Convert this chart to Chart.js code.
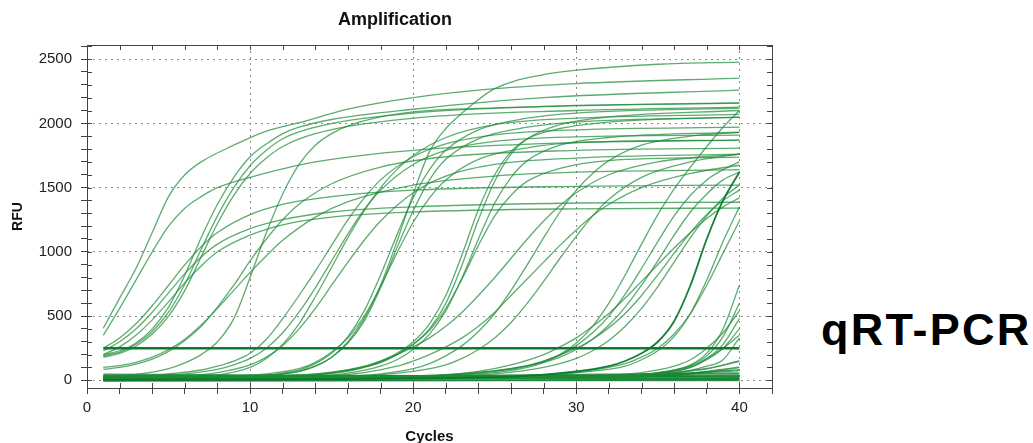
<!DOCTYPE html>
<html>
<head>
<meta charset="utf-8">
<script src="https://cdn.jsdelivr.net/npm/chart.js@4/dist/chart.umd.min.js"></script>
<style>
  html, body { margin: 0; padding: 0; background: #fff; }
  #wrap { position: absolute; left: 0; top: 0; width: 790px; height: 443px; }
  #tag {
    position: absolute; left: 821px; top: 307px;
    font: bold 45px "Liberation Sans", Arial, sans-serif; line-height: 45px;
    letter-spacing: 2.2px; color: #000; white-space: nowrap;
  }
</style>
</head>
<body>
<div id="wrap"><canvas id="ampChart"></canvas></div>
<div id="tag">qRT-PCR</div>
<script>
// Assi: etichette principali
var cycleTicks = [0, 10, 20, 30, 40];
var rfuTicks = [0, 500, 1000, 1500, 2000, 2500];

// Curve: coppie [ciclo, RFU]
var earlyCurves = [
  [[1,405],[2,640],[3,870],[4,1150],[5,1430],[6,1600],[7,1700],[9,1830],[11,1940],[13,2005],[16,2110],[20,2200],[25,2270],[30,2310],[40,2352]],
  [[1,350],[2,560],[3,780],[4,1000],[5,1200],[6,1340],[7,1430],[8,1500],[10,1580],[14,1700],[20,1790],[30,1850],[40,1870]]
];

var midCurves = [
  [[1,250],[2,330],[3,440],[4,580],[5,740],[6,900],[7,1040],[8,1150],[10,1290],[12,1370],[15,1430],[20,1480],[30,1510],[40,1519]],
  [[1,230],[2,300],[3,400],[4,530],[5,680],[6,830],[7,960],[8,1060],[10,1180],[12,1250],[15,1310],[20,1350],[30,1380],[40,1386]],
  [[1,200],[2,260],[3,350],[4,470],[5,610],[6,760],[7,890],[8,1000],[10,1130],[12,1210],[15,1270],[20,1310],[30,1335],[40,1340]],
  [[1,200],[2,230],[3,290],[4,400],[5,570],[6,820],[7,1110],[8,1370],[9,1580],[10,1740],[11,1840],[12,1920],[13,1970],[15,2030],[20,2110],[28,2200],[40,2259]],
  [[1,190],[2,220],[3,280],[4,380],[5,530],[6,750],[7,1020],[8,1280],[9,1500],[10,1670],[11,1790],[12,1880],[14,1970],[20,2080],[28,2130],[40,2157]],
  [[1,180],[2,210],[3,265],[4,360],[5,500],[6,700],[7,960],[8,1220],[9,1440],[10,1610],[11,1730],[12,1820],[14,1920],[20,2040],[30,2100],[40,2126]]
];

var lowStartCurves = [
  [[1,100],[2,115],[3,140],[4,180],[5,240],[6,320],[7,430],[8,560],[9,700],[10,840],[11,970],[12,1090],[14,1270],[16,1390],[20,1520],[25,1590],[30,1620],[40,1640]],
  [[1,85],[2,100],[3,125],[4,165],[5,225],[6,310],[7,420],[8,570],[9,740],[10,930],[11,1100],[12,1250],[13,1370],[15,1530],[18,1660],[22,1740],[30,1790],[40,1807]]
];

var cycle9Curves = [
  [[1,30],[3,45],[5,90],[6,135],[7,200],[8,300],[9,480],[10,800],[11,1150],[12,1450],[13,1680],[14,1830],[15,1920],[16,1980],[18,2050],[20,2090],[25,2120],[30,2140],[40,2160]]
];

var cycle13Curves = [
  [[1,20],[3,30],[5,50],[7,80],[8,110],[9,150],[10,210],[11,320],[12,480],[13,660],[14,850],[15,1050],[16,1250],[17,1420],[18,1560],[20,1740],[22,1840],[25,1910],[30,1950],[40,1970]],
  [[1,15],[4,30],[6,50],[8,85],[9,120],[10,170],[11,250],[12,370],[13,530],[14,720],[15,930],[16,1140],[17,1330],[18,1480],[20,1680],[22,1790],[25,1860],[30,1895],[40,1908]],
  [[1,10],[5,25],[8,60],[10,120],[11,180],[12,270],[13,400],[14,560],[15,740],[16,920],[17,1090],[18,1240],[20,1460],[22,1590],[25,1680],[30,1730],[40,1760]],
  [[1,5],[5,15],[8,40],[10,100],[11,170],[12,280],[13,440],[14,650],[15,880],[16,1110],[17,1320],[18,1500],[19,1640],[20,1750],[22,1890],[25,1990],[30,2040],[40,2070]]
];

var cycle17Curves = [
  [[1,10],[8,20],[11,40],[13,80],[14,130],[15,210],[16,340],[17,540],[18,820],[19,1130],[20,1420],[21,1640],[22,1790],[24,1950],[27,2040],[30,2080],[40,2118]],
  [[1,5],[8,15],[11,35],[13,70],[14,110],[15,180],[16,290],[17,460],[18,720],[19,1030],[20,1320],[21,1560],[22,1720],[24,1880],[27,1970],[30,2010],[40,2048]],
  [[1,20],[8,30],[11,50],[13,90],[14,140],[15,220],[16,330],[17,500],[18,730],[19,990],[20,1230],[21,1420],[22,1560],[24,1720],[27,1810],[30,1850],[40,1870]],
  [[1,10],[8,20],[11,40],[13,70],[14,110],[15,180],[16,300],[17,480],[18,740],[19,1080],[20,1450],[21,1780],[22,1960],[23,2080],[25,2270],[28,2380],[30,2414],[35,2460],[40,2477]]
];

var cycle22Curves = [
  [[1,10],[10,20],[14,40],[16,70],[17,100],[18,140],[19,200],[20,280],[21,400],[22,600],[23,900],[24,1250],[25,1550],[26,1760],[27,1880],[29,1990],[32,2050],[40,2100]],
  [[1,15],[10,25],[14,45],[16,75],[17,105],[18,150],[19,210],[20,300],[21,440],[22,660],[23,980],[24,1330],[25,1600],[26,1780],[27,1880],[29,1960],[32,2010],[40,2048]],
  [[1,5],[10,15],[14,30],[16,55],[18,110],[19,160],[20,240],[21,360],[22,540],[23,800],[24,1100],[25,1380],[26,1580],[27,1710],[29,1830],[32,1890],[40,1931]],
  [[1,20],[10,30],[14,50],[16,80],[18,140],[19,200],[20,280],[21,390],[22,560],[23,790],[24,1050],[25,1280],[26,1440],[27,1550],[29,1650],[32,1710],[40,1737]]
];

var diagonalCurves = [
  [[1,10],[12,30],[15,60],[17,110],[18,150],[19,200],[20,260],[21,330],[22,420],[23,530],[24,660],[25,800],[26,950],[27,1100],[28,1240],[29,1360],[30,1460],[32,1600],[35,1700],[40,1760]],
  [[1,10],[14,30],[17,60],[19,110],[20,150],[21,200],[22,260],[23,330],[24,420],[25,530],[26,660],[27,790],[28,920],[29,1050],[30,1170],[31,1280],[32,1370],[34,1500],[37,1610],[40,1674]],
  [[1,5],[14,20],[18,50],[20,90],[21,130],[22,190],[23,270],[24,380],[25,520],[26,700],[27,900],[28,1110],[29,1310],[30,1480],[31,1610],[32,1710],[34,1830],[37,1900],[40,1930]],
  [[1,10],[16,30],[20,70],[22,120],[23,170],[24,240],[25,330],[26,450],[27,600],[28,770],[29,950],[30,1120],[31,1280],[32,1410],[34,1580],[37,1700],[40,1760]]
];

var cycle32Curves = [
  [[1,10],[20,30],[25,60],[27,100],[28,140],[29,200],[30,290],[31,420],[32,600],[33,820],[34,1060],[35,1290],[36,1490],[37,1660],[38,1820],[39,1970],[40,2100]],
  [[1,10],[20,30],[25,70],[27,110],[28,150],[29,200],[30,270],[31,370],[32,500],[33,670],[34,870],[35,1080],[36,1280],[37,1440],[38,1560],[39,1640],[40,1700]],
  [[1,15],[20,35],[25,75],[28,140],[29,180],[30,240],[31,320],[32,430],[33,570],[34,740],[35,930],[36,1130],[37,1310],[38,1450],[39,1560],[40,1620]],
  [[1,5],[20,20],[25,50],[28,100],[30,170],[31,230],[32,310],[33,420],[34,560],[35,730],[36,920],[37,1110],[38,1280],[39,1420],[40,1520]],
  [[1,10],[20,30],[24,70],[26,120],[28,200],[29,260],[30,330],[31,420],[32,520],[33,640],[34,770],[35,900],[36,1030],[37,1150],[38,1260],[39,1350],[40,1420]],
  [[1,20],[22,40],[26,90],[28,150],[30,250],[31,320],[32,410],[33,520],[34,660],[35,820],[36,990],[37,1150],[38,1290],[39,1400],[40,1480]]
];

var cycle37Curves = [
  [[1,10],[25,30],[30,60],[33,110],[34,160],[35,230],[36,340],[37,520],[38,780],[39,1080],[40,1350]],
  [[1,15],[28,40],[31,80],[33,130],[34,180],[35,250],[36,360],[37,520],[38,740],[39,990],[40,1240]]
];
var darkCurve = [[1,5],[25,25],[30,70],[32,110],[33,150],[34,210],[35,300],[36,460],[37,740],[38,1100],[39,1400],[40,1620]];

var lateCurves = [
  [[1,10],[30,20],[34,45],[36,80],[37,120],[38,210],[39,400],[40,740]],
  [[1,5],[30,15],[34,40],[36,75],[37,115],[38,190],[39,340],[40,600]],
  [[1,15],[30,30],[34,60],[36,110],[37,160],[38,250],[39,370],[40,540]],
  [[1,10],[32,25],[35,55],[37,100],[38,170],[39,280],[40,480]],
  [[1,5],[32,20],[35,50],[37,100],[38,160],[39,250],[40,400]],
  [[1,20],[32,35],[35,60],[37,110],[38,170],[39,250],[40,350]],
  [[1,10],[33,25],[36,55],[38,110],[39,160],[40,330]]
];

var baselineCurves = [
  [[1,15],[30,25],[35,50],[38,90],[40,150]],
  [[1,5],[30,20],[36,40],[40,100]],
  [[1,25],[20,30],[35,45],[40,78]],
  [[1,0],[40,40]],
  [[1,35],[40,30]],
  [[1,20],[40,15]],
  [[1,-5],[40,5]],
  [[1,45],[10,40],[40,25]],
  [[1,10],[40,55]],
  [[1,30],[20,20],[40,10]],
  [[1,0],[40,0]]
];

var thresholdLine = [[1,250],[40,250]];

// Costruzione dei dataset
var lineColor = 'rgba(30,140,55,0.72)';
var datasets = [];
function addCurve(points, color, width) {
  datasets.push({
    data: points.map(function (p) { return { x: p[0], y: p[1] }; }),
    borderColor: color,
    borderWidth: width,
    pointRadius: 0,
    fill: false,
    cubicInterpolationMode: 'monotone'
  });
}
addCurve(thresholdLine, 'rgb(12,122,48)', 2.6);
addCurve(darkCurve, 'rgba(10,120,45,0.95)', 1.8);
[earlyCurves, midCurves, lowStartCurves, cycle9Curves, cycle13Curves, cycle17Curves,
 cycle22Curves, diagonalCurves, cycle32Curves, cycle37Curves, lateCurves].forEach(function (group) {
  group.forEach(function (c) { addCurve(c, lineColor, 1.3); });
});
baselineCurves.forEach(function (c) { addCurve(c, 'rgba(20,130,50,0.8)', 1.8); });

// Cornice e tacche interne su tutti i lati
var framePlugin = {
  id: 'frame',
  afterDraw: function (chart) {
    var ctx = chart.ctx, a = chart.chartArea;
    var xs = chart.scales.x, ys = chart.scales.y;
    ctx.save();
    ctx.strokeStyle = '#444';
    ctx.lineWidth = 1;
    ctx.strokeRect(a.left + 0.5, a.top + 0.5, a.right - a.left, a.bottom - a.top);
    ctx.beginPath();
    ys.ticks.forEach(function (t) {
      var y = Math.round(ys.getPixelForValue(t.value)) + 0.5;
      ctx.moveTo(a.left, y); ctx.lineTo(a.left + 5, y);
      ctx.moveTo(a.right, y); ctx.lineTo(a.right - 5, y);
    });
    xs.ticks.forEach(function (t) {
      var x = Math.round(xs.getPixelForValue(t.value)) + 0.5;
      ctx.moveTo(x, a.bottom); ctx.lineTo(x, a.bottom - 5);
      ctx.moveTo(x, a.top); ctx.lineTo(x, a.top + 5);
    });
    ctx.stroke();
    ctx.restore();
  }
};

var fontFamily = '"Liberation Sans", Arial, sans-serif';
var tickFont = { family: fontFamily, size: 15 };

var ctx = document.getElementById('ampChart').getContext('2d');
new Chart(ctx, {
  type: 'line',
  data: { datasets: datasets },
  plugins: [framePlugin],
  options: {
    responsive: true,
    maintainAspectRatio: false,
    animation: false,
    layout: { padding: { left: 18, right: 18, top: 0, bottom: 0 } },
    plugins: {
      legend: { display: false },
      tooltip: { enabled: false },
      title: {
        display: true,
        text: 'Amplification',
        color: '#111',
        font: { family: fontFamily, size: 18, weight: 'bold' },
        padding: { top: 9, bottom: 14.4 }
      }
    },
    scales: {
      x: {
        type: 'linear',
        min: 0,
        max: 42,
        afterBuildTicks: function (s) {
          var t = [];
          for (var v = 0; v <= 42; v += 2) t.push({ value: v });
          s.ticks = t;
        },
        afterFit: function (s) { s.height = 55; },
        ticks: {
          color: '#222',
          font: tickFont,
          padding: 5,
          maxRotation: 0,
          autoSkip: false,
          callback: function (v) { return cycleTicks.indexOf(v) >= 0 ? String(v) : ''; }
        },
        grid: {
          color: function (c) { return c.tick && cycleTicks.indexOf(c.tick.value) > 0 ? '#8a8a8a' : 'rgba(0,0,0,0)'; },
          tickColor: '#444',
          tickLength: 6,
          lineWidth: 1
        },
        border: { display: false, dash: [2, 4] },
        title: { display: true, text: 'Cycles', color: '#111', font: { family: fontFamily, size: 15, weight: 'bold' }, padding: { top: 0, bottom: -3 } }
      },
      y: {
        min: -60,
        max: 2610,
        afterBuildTicks: function (s) {
          var t = [];
          for (var v = 0; v <= 2600; v += 100) t.push({ value: v });
          s.ticks = t;
        },
        afterFit: function (s) { s.width = 69; },
        ticks: {
          color: '#222',
          font: tickFont,
          padding: 9,
          autoSkip: false,
          callback: function (v) { return rfuTicks.indexOf(v) >= 0 ? String(v) : ''; }
        },
        grid: {
          color: function (c) { return c.tick && rfuTicks.indexOf(c.tick.value) >= 0 ? '#8a8a8a' : 'rgba(0,0,0,0)'; },
          tickColor: '#444',
          tickLength: 6,
          lineWidth: 1
        },
        border: { display: false, dash: [2, 4] },
        title: { display: true, text: 'RFU', color: '#111', font: { family: fontFamily, size: 14, weight: 'bold' }, padding: { top: -8, bottom: 0 } }
      }
    }
  }
});
</script>
</body>
</html>
